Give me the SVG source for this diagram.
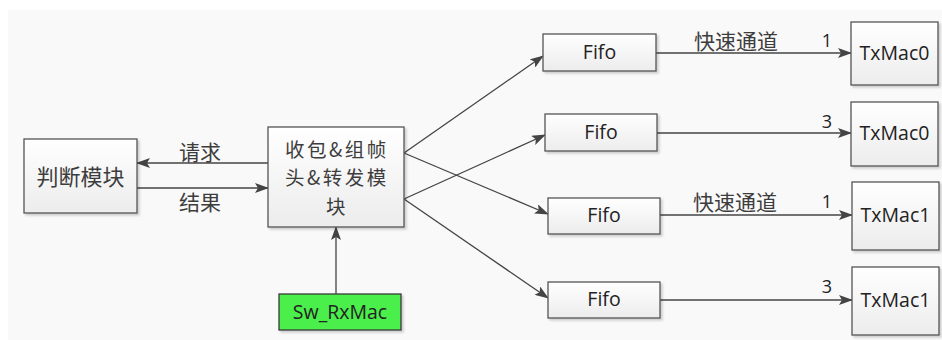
<svg xmlns="http://www.w3.org/2000/svg" width="942" height="340" viewBox="0 0 942 340">
<defs>
<linearGradient id="g" x1="0" y1="0" x2="0" y2="1">
<stop offset="0" stop-color="#ffffff"/>
<stop offset="1" stop-color="#ececec"/>
</linearGradient>
<marker id="ah" markerWidth="14" markerHeight="10" refX="13" refY="5" orient="auto" markerUnits="userSpaceOnUse">
<path d="M0,0 L14,5 L0,10 L3,5 Z" fill="#444"/>
</marker>
<filter id="sh" x="-10%" y="-10%" width="130%" height="130%">
<feDropShadow dx="2" dy="2" stdDeviation="1.2" flood-color="#000" flood-opacity="0.18"/>
</filter>
</defs>
<style>
.box{fill:url(#g);stroke:#555;stroke-width:1.3;filter:url(#sh)}
.green{fill:#4cef4c;stroke:#3a3a3a;stroke-width:1.3;filter:url(#sh)}
.arr{stroke:#444;stroke-width:1.3;fill:none;marker-end:url(#ah)}
.cn{font-family:"Noto Sans CJK SC","Noto Sans",sans-serif;font-size:22px;fill:#3d3d3d;text-anchor:middle}
.cn3{font-family:"Noto Sans CJK SC","Noto Sans",sans-serif;font-size:19.5px;letter-spacing:2.5px;fill:#3d3d3d;text-anchor:middle}
.en{font-family:"Open Sans","Noto Sans",sans-serif;font-size:19.5px;fill:#222;text-anchor:middle}
.num{font-family:"Open Sans","Noto Sans",sans-serif;font-size:18px;fill:#222;text-anchor:middle}
.lb{font-family:"Noto Sans CJK SC","Noto Sans",sans-serif;font-size:21px;fill:#3d3d3d;text-anchor:middle}
</style>
<rect x="0" y="0" width="942" height="340" fill="#ffffff"/>
<rect x="8" y="10" width="934" height="330" fill="#f9f9f9"/>

<g id="connectors">
<line class="arr" x1="268" y1="163" x2="137" y2="163"/>
<line class="arr" x1="137" y1="188" x2="268" y2="188"/>
<line class="arr" x1="336" y1="294" x2="336" y2="227"/>
<line class="arr" x1="404" y1="153" x2="543" y2="56"/>
<line class="arr" x1="404" y1="153" x2="548" y2="214"/>
<line class="arr" x1="404" y1="199" x2="545" y2="135"/>
<line class="arr" x1="404" y1="199" x2="548" y2="298"/>
<line class="arr" x1="656" y1="53" x2="851" y2="53"/>
<line class="arr" x1="657" y1="133" x2="851" y2="133"/>
<line class="arr" x1="660" y1="215" x2="852" y2="215"/>
<line class="arr" x1="660" y1="300" x2="852" y2="300"/>
<text class="lb" x="200" y="160">请求</text>
<text class="lb" x="200" y="210">结果</text>
<text class="lb" x="736" y="49">快速通道</text>
<text class="lb" x="735" y="210">快速通道</text>
<text class="num" x="827" y="47">1</text>
<text class="num" x="827" y="128">3</text>
<text class="num" x="827" y="208">1</text>
<text class="num" x="827" y="293">3</text>
</g>

<g id="judge">
<rect class="box" x="24" y="139" width="113" height="74"/>
<text class="cn" x="80.5" y="184.5">判断模块</text>
</g>
<g id="rx">
<rect class="box" x="268" y="127" width="136" height="100"/>
<text class="cn3" x="337" y="156.5">收包&amp;组帧<tspan x="337" dy="28.5">头&amp;转发模</tspan><tspan x="337" dy="28.5">块</tspan></text>
</g>
<g id="swrx">
<rect class="green" x="279" y="294" width="122" height="36"/>
<text class="en" x="340" y="319">Sw_RxMac</text>
</g>
<g id="fifo1">
<rect class="box" x="543" y="34" width="113" height="37"/>
<text class="en" x="599.5" y="59">Fifo</text>
</g>
<g id="fifo2">
<rect class="box" x="545" y="114" width="112" height="37"/>
<text class="en" x="601" y="139">Fifo</text>
</g>
<g id="fifo3">
<rect class="box" x="548" y="198" width="112" height="36"/>
<text class="en" x="604" y="222">Fifo</text>
</g>
<g id="fifo4">
<rect class="box" x="548" y="282" width="112" height="36"/>
<text class="en" x="604" y="306">Fifo</text>
</g>
<g id="tx0a">
<rect class="box" x="851" y="22" width="87" height="63"/>
<text class="en" x="894.5" y="60">TxMac0</text>
</g>
<g id="tx0b">
<rect class="box" x="851" y="102" width="87" height="64"/>
<text class="en" x="894.5" y="140">TxMac0</text>
</g>
<g id="tx1a">
<rect class="box" x="852" y="182" width="87" height="68"/>
<text class="en" x="895.5" y="222">TxMac1</text>
</g>
<g id="tx1b">
<rect class="box" x="852" y="267" width="87" height="68"/>
<text class="en" x="895.5" y="307">TxMac1</text>
</g>
</svg>
